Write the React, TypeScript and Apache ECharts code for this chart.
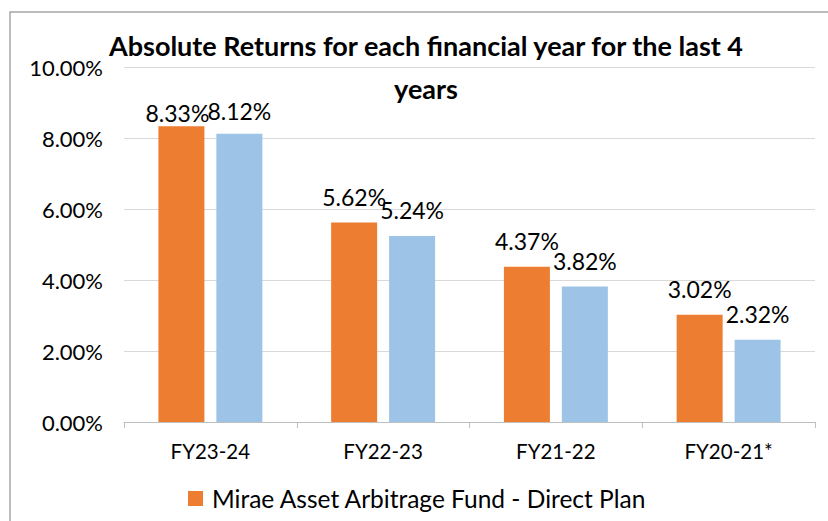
import React, { useEffect, useRef } from "react";
import * as echarts from "echarts";

const categories = ["FY23-24", "FY22-23", "FY21-22", "FY20-21*"];
const fundName = "Mirae Asset Arbitrage Fund - Direct Plan";
const benchName = "Benchmark";
const fundValues = [8.33, 5.62, 4.37, 3.02];
const benchValues = [8.12, 5.24, 3.82, 2.32];
const titleText = "Absolute Returns for each financial year for the last 4\nyears";

const FONT = "Lato, 'Noto Sans', sans-serif";

// label placement tweaks (style only) — first group's labels sit lower, as in the reference
const fundLabelDist = [2, 14, 14, 14];
const fundLabelOffset = [-4, 0, 0, 0];
const benchLabelDist = [11, 14, 14, 14];

export default function App() {
  const ref = useRef<HTMLDivElement>(null);
  useEffect(() => {
    if (!ref.current) return;
    const chart = echarts.init(ref.current, undefined, { renderer: "svg" });
    const labelCfg = {
      show: true,
      position: "top",
      distance: 14,
      color: "#000",
      fontSize: 23,
      fontFamily: FONT,
      formatter: (p: any) => `${Number(p.value).toFixed(2)}%`,
    };
    const fundData = fundValues.map((v, i) => ({
      value: v,
      label: { distance: fundLabelDist[i], offset: [fundLabelOffset[i], 0] },
    }));
    const benchData = benchValues.map((v, i) => ({
      value: v,
      label: { distance: benchLabelDist[i] },
    }));
    chart.setOption({
      animation: false,
      backgroundColor: "#fff",
      textStyle: { fontFamily: FONT },
      title: {
        text: titleText,
        left: 426,
        top: 24,
        padding: 0,
        textAlign: "center",
        textStyle: {
          fontFamily: FONT,
          fontSize: 27,
          fontWeight: "bold",
          color: "#000",
          lineHeight: 43,
        },
      },
      graphic: [
        {
          type: "rect",
          shape: { x: 10, y: 12, width: 840, height: 540 },
          style: { fill: "none", stroke: "#A6A6A6", lineWidth: 1.5 },
          silent: true,
          z: -1,
        },
      ],
      legend: {
        data: [fundName],
        left: 188,
        top: 486,
        padding: 0,
        selectedMode: false,
        itemWidth: 15,
        itemHeight: 15,
        icon: "rect",
        itemGap: 10,
        textStyle: { fontFamily: FONT, fontSize: 24.5, color: "#000", padding: [0, 0, 0, 4] },
      },
      grid: { left: 124, right: 13, top: 67, bottom: 99, containLabel: false },
      xAxis: {
        type: "category",
        data: categories,
        axisLine: { show: true, lineStyle: { color: "#BFBFBF", width: 1 } },
        axisTick: { show: true, length: 6, lineStyle: { color: "#BFBFBF" } },
        axisLabel: { color: "#000", fontSize: 20.5, fontFamily: FONT, margin: 18 },
      },
      yAxis: {
        type: "value",
        min: 0,
        max: 10,
        interval: 2,
        axisLine: { show: false },
        axisTick: { show: false },
        splitLine: { lineStyle: { color: "#D9D9D9", width: 1 } },
        axisLabel: {
          color: "#000",
          fontSize: 22,
          fontFamily: FONT,
          margin: 21,
          formatter: (v: number) => `${v.toFixed(2)}%`,
        },
      },
      series: [
        {
          name: fundName,
          type: "bar",
          data: fundData,
          barWidth: 46,
          barGap: "26%",
          itemStyle: { color: "#ED7D31" },
          label: labelCfg,
        },
        {
          name: benchName,
          type: "bar",
          data: benchData,
          barWidth: 46,
          itemStyle: { color: "#9DC3E6" },
          label: labelCfg,
        },
      ],
    });
    return () => chart.dispose();
  }, []);
  return (
    <div
      ref={ref}
      style={{ position: "fixed", left: 0, top: 0, width: 828, height: 521 }}
    />
  );
}
